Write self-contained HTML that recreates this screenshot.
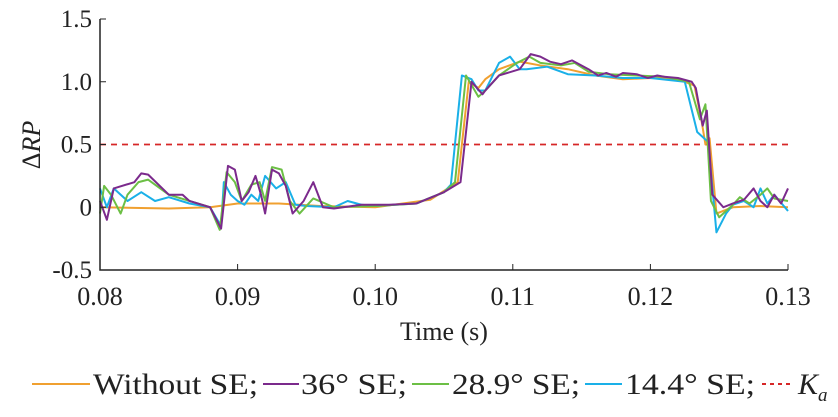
<!DOCTYPE html>
<html><head><meta charset="utf-8"><style>
body{margin:0;background:#fff;width:838px;height:412px;overflow:hidden}
text{font-family:"Liberation Serif",serif;fill:#222}
</style></head><body>
<svg id="chart" width="838" height="412" xmlns="http://www.w3.org/2000/svg">
<g id="plot"></g>
</svg>
<script>
const xTicks=[0.08,0.09,0.10,0.11,0.12,0.13];
const xTickLabels=["0.08","0.09","0.10","0.11","0.12","0.13"];
const yTicks=[-0.5,0,0.5,1.0,1.5];
const yTickLabels=["-0.5","0","0.5","1.0","1.5"];
const kaValue=0.5;
const tOrange=[0.08,0.085,0.088,0.09,0.093,0.096,0.1,0.102,0.104,0.106,0.1064,0.1068,0.1075,0.108,0.109,0.1105,0.112,0.114,0.116,0.118,0.12,0.122,0.1232,0.1237,0.124,0.1243,0.1248,0.1255,0.126,0.128,0.13];
const vOrange=[0,-0.01,0,0.03,0.03,0.01,0,0.03,0.06,0.2,0.6,1.0,0.95,1.02,1.1,1.16,1.13,1.1,1.05,1.02,1.03,1.02,0.97,0.7,0.5,0.55,-0.05,-0.02,0,0.01,0];
const tPurple=[0.08,0.0805,0.081,0.0825,0.083,0.0835,0.085,0.086,0.0865,0.088,0.0888,0.0893,0.0898,0.0903,0.0908,0.0913,0.0917,0.092,0.0925,0.093,0.0935,0.094,0.0948,0.0955,0.0962,0.097,0.099,0.101,0.103,0.105,0.1062,0.107,0.1078,0.108,0.109,0.1105,0.1113,0.112,0.1127,0.1135,0.1143,0.1155,0.1162,0.1168,0.1175,0.118,0.119,0.1198,0.1205,0.121,0.122,0.123,0.1233,0.1238,0.1241,0.1245,0.1253,0.126,0.1268,0.1275,0.128,0.1285,0.129,0.1295,0.13];
const vPurple=[0.05,-0.1,0.15,0.2,0.27,0.26,0.1,0.1,0.05,0,-0.17,0.33,0.3,0.05,0.12,0.25,0.1,-0.05,0.3,0.27,0.17,-0.05,0.05,0.2,0,-0.01,0.02,0.02,0.03,0.12,0.2,1.0,0.9,0.93,1.05,1.1,1.22,1.2,1.16,1.14,1.17,1.1,1.05,1.07,1.04,1.07,1.06,1.03,1.05,1.04,1.03,1.0,0.95,0.65,0.77,0.1,0.0,0.03,0.06,0.15,0.05,0.0,0.1,0.03,0.15];
const tGreen=[0.08,0.0803,0.0808,0.0815,0.082,0.0828,0.0835,0.085,0.0865,0.088,0.0887,0.0892,0.0898,0.0903,0.091,0.0916,0.092,0.0925,0.0932,0.0938,0.0945,0.0955,0.097,0.1,0.103,0.105,0.1058,0.1066,0.1075,0.108,0.109,0.1103,0.1112,0.112,0.1135,0.1145,0.1155,0.117,0.119,0.121,0.1228,0.1236,0.124,0.1244,0.125,0.126,0.1265,0.1272,0.128,0.1285,0.129,0.13];
const vGreen=[-0.05,0.17,0.1,-0.05,0.1,0.2,0.22,0.1,0.05,0,-0.18,0.28,0.2,0.05,0.18,0.2,0.05,0.32,0.3,0.05,-0.05,0.07,0,0.01,0.03,0.12,0.2,1.05,0.88,0.93,1.05,1.15,1.2,1.15,1.13,1.15,1.08,1.06,1.05,1.04,1.0,0.7,0.82,0.05,-0.08,0.02,0.08,0.03,0.1,0.15,0.07,0.05];
const tCyan=[0.08,0.0805,0.081,0.082,0.083,0.084,0.085,0.0865,0.088,0.0888,0.089,0.0895,0.09,0.0905,0.091,0.0915,0.092,0.0928,0.0935,0.0942,0.095,0.097,0.098,0.099,0.1,0.103,0.105,0.1055,0.1063,0.107,0.1075,0.108,0.109,0.1098,0.1105,0.111,0.1125,0.114,0.116,0.118,0.12,0.1225,0.1234,0.1242,0.1248,0.1255,0.126,0.1268,0.1275,0.128,0.1285,0.129,0.13];
const vCyan=[0.15,0.0,0.15,0.05,0.12,0.05,0.08,0.03,0,-0.15,0.2,0.1,0.05,0.02,0.1,0.05,0.25,0.15,0.2,0.02,0.01,0,0.05,0.02,0.01,0.03,0.12,0.18,1.05,1.02,0.93,0.93,1.15,1.2,1.1,1.1,1.12,1.06,1.05,1.03,1.03,1.0,0.6,0.52,-0.2,-0.05,0.02,0.05,0.0,0.15,0.03,0.1,-0.03];
const x0=100,x1=788,y0=270,y1=19;
const X=t=>x0+(t-0.08)/(0.05)*(x1-x0);
const Y=v=>y0-(v+0.5)/2*(y0-y1);
const NS="http://www.w3.org/2000/svg";
const svg=document.getElementById('chart'),plot=document.getElementById('plot');
function mk(tag,attrs,parent){const e=document.createElementNS(NS,tag);for(const k in attrs)e.setAttribute(k,attrs[k]);(parent||svg).appendChild(e);return e;}
let ax=mk('path',{d:`M${x0},${y1}V${y0}H${x1}`,stroke:'#222','stroke-width':1.5,fill:'none'});


xTicks.forEach((t,i)=>{
 mk('line',{x1:X(t),x2:X(t),y1:y0,y2:y0-6,stroke:'#222'});
 const tx=mk('text',{x:X(t),y:y0+35,'text-anchor':'middle','font-size':26});tx.textContent=xTickLabels[i];
 
 
});
yTicks.forEach((v,i)=>{
 mk('line',{x1:x0,x2:x0+6,y1:Y(v),y2:Y(v),stroke:'#222'});
 const tx=mk('text',{x:x0-8,y:Y(v)+8,'text-anchor':'end','font-size':25});tx.textContent=yTickLabels[i];
 
 
});
let ka=mk('line',{x1:x0,x2:x1,y1:Y(kaValue),y2:Y(kaValue),stroke:'#d62728','stroke-width':1.8,'stroke-dasharray':'6,5'},plot);


function series(ts,vs,color,name){
 const p=mk('polyline',{points:ts.map((t,i)=>X(t)+','+Y(vs[i])).join(' '),fill:'none',stroke:color,'stroke-width':2,'stroke-linejoin':'round'},plot);
 
 
}
series(tOrange,vOrange,'#f0a030','line-without-se');
series(tCyan,vCyan,'#1ab0e8','line-14-4-se');
series(tGreen,vGreen,'#6cbf45','line-28-9-se');
series(tPurple,vPurple,'#7b2a8c','line-36-se');
let xt=mk('text',{x:444,y:340,'text-anchor':'middle','font-size':26});xt.textContent='Time (s)';


let yt=mk('text',{transform:'translate(40,145) rotate(-90)','text-anchor':'middle','font-size':26});
yt.innerHTML='Δ<tspan font-style="italic">RP</tspan>';


const legNames=['Without SE;','36° SE;','28.9° SE;','14.4° SE;'];
const legColors=['#f0a030','#7b2a8c','#6cbf45','#1ab0e8'];
const legLine=[[32,90],[263,299],[412,449],[585,622]];
const legText=[[93,165],[301,106],[452,128],[625,130]];
legNames.forEach((n,i)=>{
 const g=mk('g',{});
 
 
 mk('line',{x1:legLine[i][0],x2:legLine[i][1],y1:384,y2:384,stroke:legColors[i],'stroke-width':2},g);
 const t=mk('text',{x:legText[i][0],y:394,'font-size':30,textLength:legText[i][1],lengthAdjust:'spacingAndGlyphs'},g);t.textContent=n;
});
const gk=mk('g',{});


mk('line',{x1:762,x2:793,y1:384,y2:384,stroke:'#d62728','stroke-width':2,'stroke-dasharray':'4,4'},gk);
const kt=mk('text',{x:798,y:394,'font-size':30,'font-style':'italic'},gk);
kt.innerHTML='K<tspan font-size="19" dy="7">a</tspan>';
</script>
</body></html>
